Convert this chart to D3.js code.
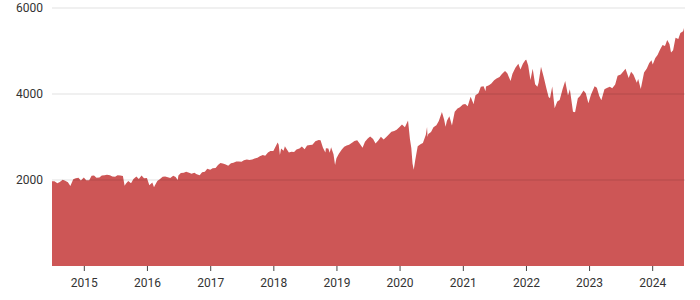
<!DOCTYPE html>
<meta charset="utf-8">
<script src="https://d3js.org/d3.v7.min.js"></script>
<style>
  body { margin: 0; background: #fff; }
  text { font-family: Roboto, "Noto Sans", sans-serif; }
</style>
<div id="chart"></div>
<script>
// S&P 500 closes (approx.)
const dates = [
  "2014-07-01","2014-07-15","2014-08-01","2014-08-15","2014-09-01","2014-09-15","2014-10-01","2014-10-15","2014-11-01","2014-11-15","2014-12-01","2014-12-15",
  "2015-01-01","2015-01-15","2015-02-01","2015-02-15","2015-03-01","2015-03-15","2015-04-01","2015-04-15","2015-05-01","2015-05-15","2015-06-01","2015-06-15","2015-07-01","2015-07-15","2015-08-01","2015-08-15","2015-08-25","2015-09-01","2015-09-15","2015-10-01","2015-10-15","2015-11-01","2015-11-15","2015-12-01","2015-12-15",
  "2016-01-01","2016-01-15","2016-02-01","2016-02-11","2016-02-15","2016-03-01","2016-03-15","2016-04-01","2016-04-15","2016-05-01","2016-05-15","2016-06-01","2016-06-15","2016-06-27","2016-07-01","2016-07-15","2016-08-01","2016-08-15","2016-09-01","2016-09-15","2016-10-01","2016-10-15","2016-11-01","2016-11-15","2016-12-01","2016-12-15",
  "2017-01-01","2017-01-15","2017-02-01","2017-02-15","2017-03-01","2017-03-15","2017-04-01","2017-04-15","2017-05-01","2017-05-15","2017-06-01","2017-06-15","2017-07-01","2017-07-15","2017-08-01","2017-08-15","2017-09-01","2017-09-15","2017-10-01","2017-10-15","2017-11-01","2017-11-15","2017-12-01","2017-12-15",
  "2018-01-01","2018-01-15","2018-01-26","2018-02-01","2018-02-08","2018-02-15","2018-03-01","2018-03-09","2018-03-15","2018-04-01","2018-04-15","2018-05-01","2018-05-15","2018-06-01","2018-06-15","2018-07-01","2018-07-15","2018-08-01","2018-08-15","2018-09-01","2018-09-20","2018-10-01","2018-10-15","2018-10-29","2018-11-01","2018-11-15","2018-11-23","2018-12-01","2018-12-15","2018-12-24",
  "2019-01-01","2019-01-15","2019-02-01","2019-02-15","2019-03-01","2019-03-15","2019-04-01","2019-04-15","2019-05-01","2019-05-15","2019-06-01","2019-06-15","2019-07-01","2019-07-15","2019-08-01","2019-08-15","2019-09-01","2019-09-15","2019-10-01","2019-10-15","2019-11-01","2019-11-15","2019-12-01","2019-12-15",
  "2020-01-01","2020-01-15","2020-02-01","2020-02-19","2020-03-01","2020-03-09","2020-03-16","2020-03-23","2020-04-01","2020-04-15","2020-05-01","2020-05-15","2020-06-01","2020-06-08","2020-06-11","2020-06-15","2020-07-01","2020-07-15","2020-08-01","2020-08-15","2020-09-02","2020-09-15","2020-09-23","2020-10-01","2020-10-15","2020-10-30","2020-11-15","2020-12-01","2020-12-15",
  "2021-01-01","2021-01-15","2021-01-29","2021-02-15","2021-03-04","2021-03-15","2021-04-01","2021-04-15","2021-05-01","2021-05-12","2021-05-15","2021-06-01","2021-06-15","2021-07-01","2021-07-15","2021-08-01","2021-08-15","2021-09-02","2021-09-15","2021-10-04","2021-10-15","2021-11-01","2021-11-18","2021-11-30","2021-12-15","2021-12-29",
  "2022-01-03","2022-01-14","2022-01-27","2022-02-09","2022-02-23","2022-03-08","2022-03-15","2022-03-29","2022-04-14","2022-04-29","2022-05-12","2022-05-20","2022-06-02","2022-06-16","2022-07-01","2022-07-15","2022-08-01","2022-08-16","2022-09-01","2022-09-12","2022-09-30","2022-10-12","2022-10-28","2022-11-10","2022-11-30","2022-12-13","2022-12-28",
  "2023-01-12","2023-02-02","2023-02-15","2023-03-01","2023-03-13","2023-03-31","2023-04-14","2023-05-01","2023-05-15","2023-06-01","2023-06-15","2023-07-03","2023-07-31","2023-08-18","2023-09-01","2023-09-15","2023-10-04","2023-10-12","2023-10-27","2023-11-15","2023-12-01","2023-12-15","2023-12-28",
  "2024-01-04","2024-01-19","2024-02-01","2024-02-15","2024-03-01","2024-03-15","2024-03-28","2024-04-10","2024-04-19","2024-05-01","2024-05-15","2024-05-31","2024-06-12","2024-06-28","2024-07-03"
];
const closes = [
  1973,1973,1925,1955,2003,1985,1946,1862,2018,2040,2053,1990,
  2058,1992,1995,2096,2104,2053,2059,2106,2108,2122,2111,2084,2077,2108,2104,2092,1867,1914,1978,1923,2023,2079,2023,2102,2043,
  2044,1880,1940,1829,1865,1978,2016,2073,2081,2065,2047,2099,2071,2001,2103,2162,2170,2190,2171,2147,2168,2133,2111,2180,2192,2262,
  2239,2275,2279,2349,2396,2385,2363,2329,2388,2402,2430,2433,2423,2459,2476,2465,2477,2500,2519,2553,2579,2564,2642,2675,
  2674,2786,2873,2822,2581,2731,2678,2786,2747,2641,2656,2654,2711,2734,2779,2718,2801,2813,2818,2901,2930,2924,2750,2641,2740,2730,2633,2760,2599,2351,
  2507,2610,2707,2775,2803,2822,2867,2907,2924,2850,2752,2887,2964,3014,2953,2847,2926,3007,2940,2995,3066,3120,3141,3169,
  3231,3289,3226,3386,2954,2746,2386,2237,2470,2783,2831,2863,3055,3232,3002,3067,3115,3227,3271,3373,3580,3401,3237,3380,3483,3270,3585,3662,3694,
  3756,3768,3714,3934,3768,3969,4020,4170,4181,4063,4174,4202,4247,4319,4360,4395,4468,4537,4480,4300,4471,4613,4704,4567,4709,4793,
  4796,4662,4327,4587,4225,4170,4262,4631,4392,4132,3930,3901,4176,3667,3825,3863,4119,4305,3967,4110,3586,3577,3901,3956,4080,4019,3783,
  3983,4179,4148,3951,3856,4109,4137,4168,4136,4221,4426,4456,4589,4370,4515,4450,4263,4349,4117,4502,4595,4719,4783,
  4688,4840,4906,5029,5137,5117,5254,5160,4967,5018,5308,5278,5421,5460,5537
];
const yTicks = [2000, 4000, 6000];
const xTickYears = [2015, 2016, 2017, 2018, 2019, 2020, 2021, 2022, 2023, 2024];

const W = 700, H = 300;
const margin = {top: 8, right: 16, bottom: 34, left: 52};
const width = W - margin.left - margin.right,
      height = H - margin.top - margin.bottom;

const parse = d3.timeParse("%Y-%m-%d");
const data = dates.map((d, i) => ({date: parse(d), value: closes[i]}));

const svg = d3.select("#chart")
  .append("svg")
    .attr("width", W)
    .attr("height", H)
  .append("g")
    .attr("transform", `translate(${margin.left},${margin.top})`);

const x = d3.scaleTime()
  .domain(d3.extent(data, d => d.date))
  .range([0, width]);

const y = d3.scaleLinear()
  .domain([0, 6000])
  .range([height, 0]);

// area
svg.append("path")
  .datum(data)
  .attr("fill", "#cd5656")
  .attr("d", d3.area()
    .x(d => x(d.date))
    .y0(y(0))
    .y1(d => y(d.value)));

// gridlines (on top, so they show darker inside the area)
svg.append("g")
  .selectAll("line")
  .data(yTicks)
  .join("line")
    .attr("x1", 0)
    .attr("x2", width + 1)
    .attr("y1", d => y(d))
    .attr("y2", d => y(d))
    .attr("stroke", "rgba(0,0,0,0.08)")
    .attr("stroke-width", 1.5);

// y labels
svg.append("g")
  .selectAll("text")
  .data(yTicks)
  .join("text")
    .attr("x", -9)
    .attr("y", d => y(d))
    .attr("dy", "0.35em")
    .attr("text-anchor", "end")
    .attr("fill", "#333")
    .style("font-size", "12px")
    .text(d => d);

// x axis
const xAxis = svg.append("g")
  .attr("transform", `translate(0,${height})`)
  .call(d3.axisBottom(x)
    .tickValues(xTickYears.map(yr => new Date(yr, 0, 1)))
    .tickFormat(d3.timeFormat("%Y"))
    .tickSize(5)
    .tickPadding(7));
xAxis.select(".domain").remove();
xAxis.selectAll(".tick line").attr("stroke", "#444");
xAxis.selectAll(".tick text")
  .attr("fill", "#333")
  .style("font-size", "12px")
  .style("font-family", "Roboto, 'Noto Sans', sans-serif");
</script>
